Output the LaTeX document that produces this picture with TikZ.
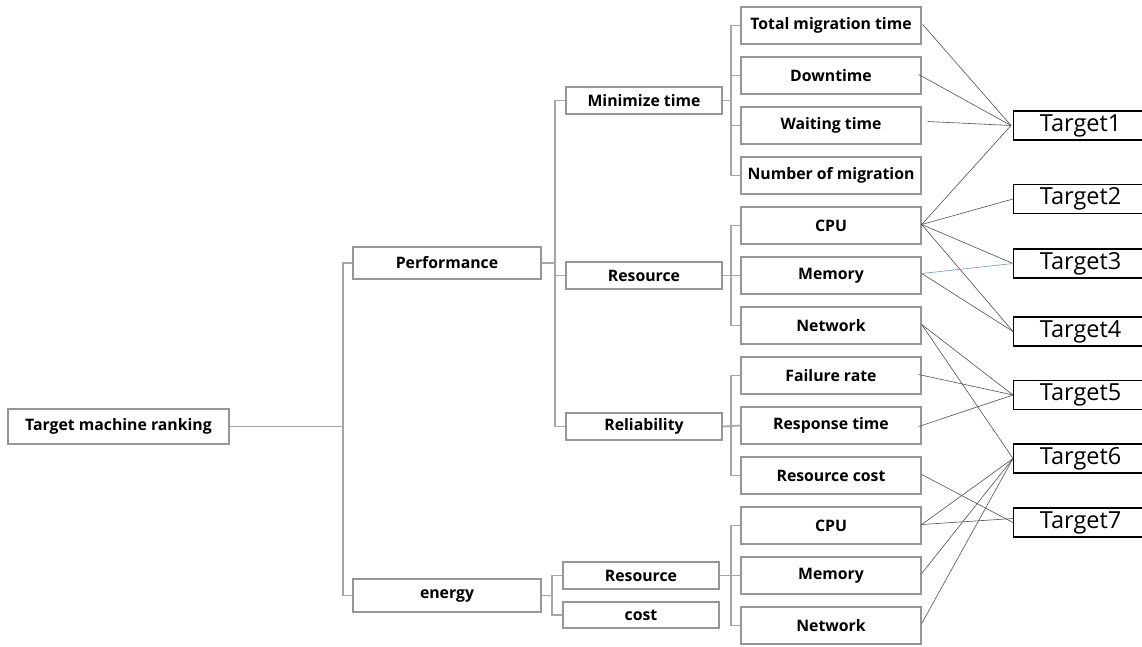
\documentclass[tikz,border=0pt]{standalone}
\usepackage{fontspec}
\setmainfont{Open Sans}
\begin{document}
\begin{tikzpicture}[x=1pt,y=-1pt,
  treeline/.style={draw=treegray,line width=1.8pt,line join=miter},
  boxbase/.style={draw=boxgray,line width=1.4pt,fill=white,inner sep=0pt,font=\fontsize{15.8}{17}\selectfont\bfseries},
  lvthree/.style={boxbase,minimum width=180,minimum height=37},
  lvtwo/.style={boxbase,minimum width=156,minimum height=27},
  lvone/.style={boxbase,minimum width=188,minimum height=32},
  tgt/.style={draw=black,line width=1.3pt,fill=white,inner sep=0pt,minimum width=134,minimum height=29,anchor=west,font=\fontsize{23.5}{26}\selectfont},
  link/.style={draw=linkgray,line width=0.6pt},
  bluelink/.style={draw=linkblue,line width=0.7pt}
]
\definecolor{treegray}{RGB}{166,166,166}
\definecolor{boxgray}{RGB}{150,150,150}
\definecolor{linkgray}{RGB}{80,80,80}
\definecolor{linkblue}{RGB}{125,165,205}
\clip (0,0) rectangle (1142,646);
\fill[white] (0,0) rectangle (1142,646);

% root
\node[boxbase,minimum width=221,minimum height=35] (root) at (118.5,426.5) {Target machine ranking};
% level 1
\node[lvone] (perf) at (447,263) {Performance};
\node[lvone,minimum height=33] (energy) at (447,595.5) {energy};
% level 2
\node[lvtwo] (mt) at (644,100.5) {Minimize time};
\node[lvtwo] (resp) at (644,275.5) {Resource};
\node[lvtwo] (rel) at (644,426.5) {Reliability};
\node[lvtwo] (rese) at (641,575.5) {Resource};
\node[lvtwo,minimum height=26] (cost) at (641,615) {cost};
% level 3
\node[lvthree] (tmt) at (831,25.5) {Total migration time};
\node[lvthree] (dt) at (831,75.5) {Downtime};
\node[lvthree] (wt) at (831,125.5) {Waiting time};
\node[lvthree] (nom) at (831,175.5) {Number of migration};
\node[lvthree] (cpua) at (831,225.5) {CPU};
\node[lvthree] (mema) at (831,275.5) {Memory};
\node[lvthree] (neta) at (831,325.5) {Network};
\node[lvthree] (fr) at (831,375.5) {Failure rate};
\node[lvthree] (rt) at (831,425.5) {Response time};
\node[lvthree] (rc) at (831,475.5) {Resource cost};
\node[lvthree] (cpub) at (831,525.5) {CPU};
\node[lvthree] (memb) at (831,575.5) {Memory};
\node[lvthree] (netb) at (831,625.5) {Network};
% targets
\node[tgt] (t1) at (1013,125.5) {Target1};
\node[tgt] (t2) at (1013,199) {Target2};
\node[tgt] (t3) at (1013,263.5) {Target3};
\node[tgt] (t4) at (1013,331.5) {Target4};
\node[tgt] (t5) at (1013,395) {Target5};
\node[tgt] (t6) at (1013,458.5) {Target6};
\node[tgt] (t7) at (1013,522.5) {Target7};

% tree connectors
\coordinate (j1) at (343,426.5);
\coordinate (j2) at (555,263);
\coordinate (j3) at (552,595.5);
\coordinate (k1) at (731,100.5);
\coordinate (k2) at (731,275.5);
\coordinate (k3) at (731,426.5);
\coordinate (k4) at (731,575.5);
\draw[treeline] (root.east) -- (j1);
\draw[treeline] (perf.west) -| (j1) |- (energy.west);
\draw[treeline] (perf.east) -- (j2);
\draw[treeline] (mt.west) -| (j2) |- (rel.west);
\draw[treeline] (j2) |- (resp.west);
\draw[treeline] (energy.east) -- (j3);
\draw[treeline] (rese.west) -| (j3) |- (cost.west);
\draw[treeline] (mt.east) -- (k1);
\draw[treeline] (tmt.west) -| (k1) |- (nom.west);
\draw[treeline] (k1) |- (dt.west);
\draw[treeline] (k1) |- (wt.west);
\draw[treeline] (resp.east) -- (mema.west);
\draw[treeline] (cpua.west) -| (k2) |- (neta.west);
\draw[treeline] (rel.east) -- (rt.west);
\draw[treeline] (fr.west) -| (k3) |- (rc.west);
\draw[treeline] (rese.east) -- (memb.west);
\draw[treeline] (cpub.west) -| (k4) |- (netb.west);

% links to targets
\draw[link] ([xshift=1pt,yshift=1pt]tmt.east) -- ([xshift=-2pt]t1.west);
\draw[link] ([xshift=-3pt,yshift=1pt]dt.east) -- ([xshift=-2pt]t1.west);
\draw[link] ([xshift=6pt,yshift=4pt]wt.east) -- ([xshift=-2pt]t1.west);
\draw[link] ([yshift=1pt]cpua.east) -- ([xshift=-2pt]t1.west);
\draw[link] ([yshift=1pt]cpua.east) -- (t2.west);
\draw[link] ([yshift=1pt]cpua.east) -- (t3.west);
\draw[link] ([yshift=1pt]cpua.east) -- (t4.west);
\draw[bluelink] ([yshift=2pt]mema.east) -- (t3.west);
\draw[link] ([yshift=2pt]mema.east) -- (t4.west);
\draw[link] ([yshift=1pt]neta.east) -- (t5.west);
\draw[link] ([yshift=1pt]neta.east) -- (t6.west);
\draw[link] ([xshift=-3pt,yshift=1pt]fr.east) -- (t5.west);
\draw[link] ([xshift=-3pt,yshift=-1pt]rt.east) -- (t5.west);
\draw[link] ([yshift=1pt]rc.east) -- (t7.west);
\draw[link] ([yshift=1pt]cpub.east) -- (t6.west);
\draw[link] ([yshift=1pt]cpub.east) -- ([yshift=4pt]t7.west);
\draw[link] ([yshift=2pt]memb.east) -- (t6.west);
\draw[link] ([yshift=2pt]netb.east) -- (t6.west);
\end{tikzpicture}
\end{document}
